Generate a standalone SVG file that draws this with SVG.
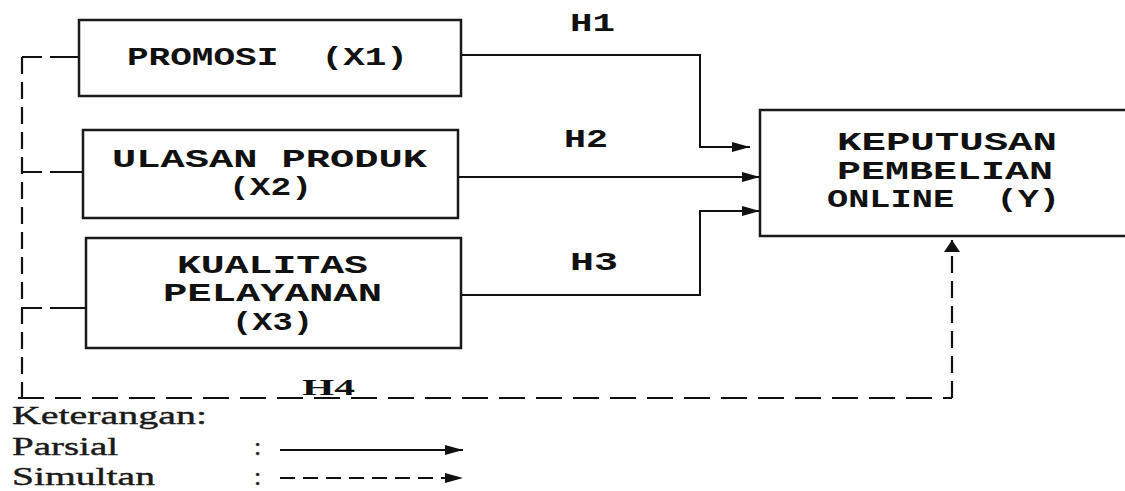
<svg xmlns="http://www.w3.org/2000/svg" width="1125" height="491" viewBox="0 0 1125 491">
<style>
.box{fill:#fff;stroke:#1a1a1a;stroke-width:2.5}
.mono{font-family:"Liberation Mono","DejaVu Sans Mono",monospace;font-weight:bold;font-size:25px;fill:#111}
.serif{font-family:"Liberation Serif","Times New Roman",serif;font-size:26px;fill:#1a1a1a;stroke:#1a1a1a;stroke-width:0.4}
.hb{font-family:"Liberation Serif","Times New Roman",serif;font-weight:bold;font-size:24px;fill:#111}
.solid{fill:none;stroke:#111;stroke-width:2}
.dashV{fill:none;stroke:#111;stroke-width:2.2;stroke-dasharray:17 8}
.dashH{fill:none;stroke:#111;stroke-width:2.2;stroke-dasharray:26 11}
.dashB{fill:none;stroke:#111;stroke-width:2.2;stroke-dasharray:20 8 100}
</style>
<defs>
<marker id="ah" markerUnits="userSpaceOnUse" markerWidth="18" markerHeight="10" refX="18" refY="5" orient="auto">
<path d="M0,0 L18,5 L0,10 Z" fill="#111"/>
</marker>
<marker id="av" markerUnits="userSpaceOnUse" markerWidth="12" markerHeight="16" refX="12" refY="8" orient="auto">
<path d="M0,0 L12,8 L0,16 Z" fill="#111"/>
</marker>
</defs>

<g id="connectors">
<path class="solid" d="M461,55 H700 V147 H750" marker-end="url(#ah)"/>
<path class="solid" d="M458,177 H760" marker-end="url(#ah)"/>
<path class="solid" d="M461,295 H700 V211 H760" marker-end="url(#ah)"/>
<path class="dashB" d="M22,57 H79"/>
<path class="dashB" d="M22,172 H83"/>
<path class="dashB" d="M22,308 H86"/>
<path class="dashV" d="M22,57 V398"/>
<path class="dashH" d="M18,398 H952"/>
<path class="dashV" d="M952,398 V240" marker-end="url(#av)"/>
</g>

<g id="labels">
<text class="mono" x="570" y="31" textLength="45" lengthAdjust="spacingAndGlyphs">H1</text>
<text class="mono" x="564" y="147" textLength="44" lengthAdjust="spacingAndGlyphs">H2</text>
<text class="mono" x="570" y="270" textLength="48" lengthAdjust="spacingAndGlyphs">H3</text>
<text class="hb" x="302" y="395" textLength="53" lengthAdjust="spacingAndGlyphs">H4</text>
</g>

<g id="x1">
<rect class="box" x="79" y="20" width="382" height="76"/>
<text class="mono" x="127" y="65" textLength="281" lengthAdjust="spacingAndGlyphs" xml:space="preserve">PROMOSI  (X1)</text>
</g>

<g id="x2">
<rect class="box" x="83" y="130" width="375" height="88"/>
<text class="mono" x="112" y="167" textLength="315" lengthAdjust="spacingAndGlyphs">ULASAN PRODUK</text>
<text class="mono" x="229" y="195" textLength="83" lengthAdjust="spacingAndGlyphs">(X2)</text>
</g>

<g id="x3">
<rect class="box" x="86" y="238" width="375" height="110"/>
<text class="mono" x="177" y="273" textLength="191" lengthAdjust="spacingAndGlyphs">KUALITAS</text>
<text class="mono" x="163" y="301" textLength="219" lengthAdjust="spacingAndGlyphs">PELAYANAN</text>
<text class="mono" x="232" y="330" textLength="81" lengthAdjust="spacingAndGlyphs">(X3)</text>
</g>

<g id="y">
<rect class="box" x="760" y="110" width="380" height="126"/>
<text class="mono" x="837" y="150" textLength="220" lengthAdjust="spacingAndGlyphs">KEPUTUSAN</text>
<text class="mono" x="837" y="179" textLength="216" lengthAdjust="spacingAndGlyphs">PEMBELIAN</text>
<text class="mono" x="827" y="207" textLength="233" lengthAdjust="spacingAndGlyphs" xml:space="preserve">ONLINE  (Y)</text>
</g>

<g id="legend">
<text class="serif" x="12" y="424" textLength="195" lengthAdjust="spacingAndGlyphs">Keterangan:</text>
<text class="serif" x="12" y="455" textLength="106" lengthAdjust="spacingAndGlyphs">Parsial</text>
<text class="serif" x="12" y="485" textLength="143" lengthAdjust="spacingAndGlyphs">Simultan</text>
<text class="serif" x="254" y="455" font-size="28">:</text>
<text class="serif" x="254" y="485" font-size="28">:</text>
<path class="solid" d="M280,450 H463" marker-end="url(#ah)"/>
<path class="solid" d="M280,478 H463" stroke-dasharray="15 8" marker-end="url(#ah)"/>
</g>
</svg>
